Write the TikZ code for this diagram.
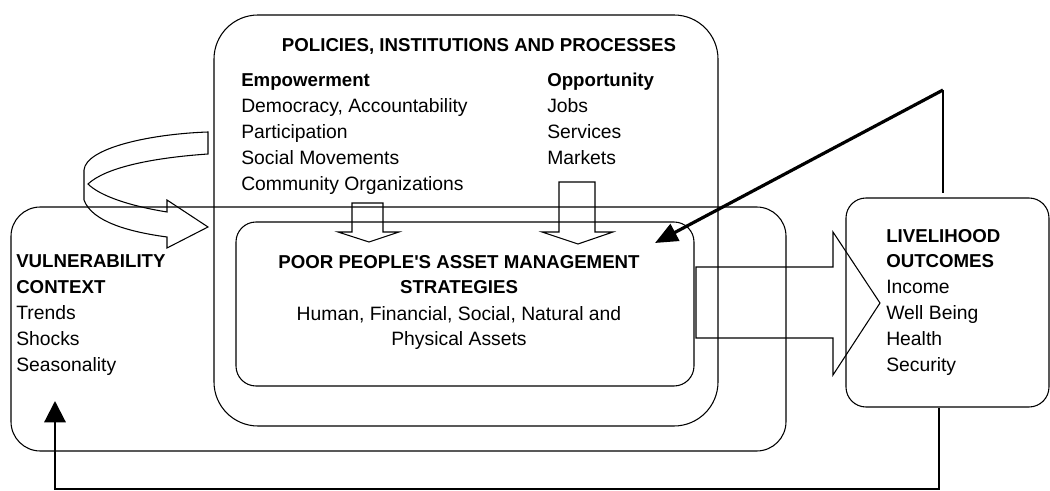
\documentclass[tikz,border=0pt]{standalone}
\usepackage{fontspec}
\setmainfont{Liberation Sans}
\usetikzlibrary{arrows.meta}
\begin{document}
\begin{tikzpicture}[x=0.75pt,y=-0.75pt,
  box/.style={draw,line width=0.8pt,inner sep=0pt},
  blockarrow/.style={draw,line width=0.8pt,line join=miter},
  lbl/.style={inner sep=0pt,font=\fontsize{14.5}{17}\selectfont},
  hd/.style={inner sep=0pt,font=\fontsize{14}{17}\selectfont\bfseries},
  feedback/.style={line width=1.6pt},
]
\useasboundingbox (0,0) rectangle (1050,491);

% framework boxes
\node[box,rounded corners=33pt,minimum width=378pt,minimum height=308.25pt] (pip) at (466,220.5) {};
\node[box,rounded corners=22pt,minimum width=581.25pt,minimum height=183pt] (vuln) at (398.5,329) {};
\node[box,rounded corners=15pt,minimum width=343.5pt,minimum height=123pt] (strat) at (465,304) {};
\node[box,rounded corners=15pt,minimum width=152.25pt,minimum height=156.75pt] (lh) at (947.5,302.5) {};

% policies, institutions and processes
\node[hd,anchor=base] (piptitle) at (479,52) {POLICIES, INSTITUTIONS AND PROCESSES};
\node[hd,anchor=base west] (emp0) at (241,87) {Empowerment};
\node[lbl,anchor=base west] (emp1) at (241,113) {Democracy, Accountability};
\node[lbl,anchor=base west] (emp2) at (241,139) {Participation};
\node[lbl,anchor=base west] (emp3) at (241,165) {Social Movements};
\node[lbl,anchor=base west] (emp4) at (241,191) {Community Organizations};
\node[hd,anchor=base west] (opp0) at (547,87) {Opportunity};
\node[lbl,anchor=base west] (opp1) at (547,113) {Jobs};
\node[lbl,anchor=base west] (opp2) at (547,139) {Services};
\node[lbl,anchor=base west] (opp3) at (547,165) {Markets};

% vulnerability context
\node[hd,anchor=base west] (vul0) at (16,268) {VULNERABILITY};
\node[hd,anchor=base west] (vul1) at (16,294) {CONTEXT};
\node[lbl,anchor=base west] (vul2) at (16,320) {Trends};
\node[lbl,anchor=base west] (vul3) at (16,346) {Shocks};
\node[lbl,anchor=base west] (vul4) at (16,372) {Seasonality};

% asset management strategies
\node[hd,anchor=base] (str0) at (459,269) {POOR PEOPLE\textquotesingle S ASSET MANAGEMENT};
\node[hd,anchor=base] (str1) at (459,294) {STRATEGIES};
\node[lbl,anchor=base] (str2) at (459,321) {Human, Financial, Social, Natural and};
\node[lbl,anchor=base] (str3) at (459,346) {Physical Assets};

% livelihood outcomes
\node[hd,anchor=base west] (lho0) at (886,243) {LIVELIHOOD};
\node[hd,anchor=base west] (lho1) at (886,268) {OUTCOMES};
\node[lbl,anchor=base west] (lho2) at (886,294) {Income};
\node[lbl,anchor=base west] (lho3) at (886,320) {Well Being};
\node[lbl,anchor=base west] (lho4) at (886,346) {Health};
\node[lbl,anchor=base west] (lho5) at (886,372) {Security};

% curled block arrow from the vulnerability context into the policies
\draw[blockarrow] (208,132) -- (208,154)
  .. controls (150,158) and (105,168) .. (88,184)
  .. controls (100,196) and (130,206) .. (167,212)
  -- (167,200) -- (208,227) -- (167,248) -- (167,237)
  .. controls (130,232) and (92,222) .. (84,200)
  -- (84,170)
  .. controls (86,148) and (150,134) .. (208,132) -- cycle;

% block arrows from the policies down to the strategies
\draw[blockarrow] (352,203) -- (383,203) -- (383,232) -- (399,232) -- (369,242) -- (338,232) -- (352,232) -- cycle;
\draw[blockarrow] (559,182) -- (595,182) -- (595,232) -- (613,232) -- (578,244) -- (542,232) -- (559,232) -- cycle;

% block arrow from the strategies to the outcomes
\draw[blockarrow] (696,267) -- (833,267) -- (833,232) -- (880,303) -- (833,375) -- (833,338) -- (696,338) -- cycle;

% feedback from the outcomes to the strategies
\coordinate (topturn) at (943,90);
\coordinate (stratin) at (655,243);
\draw[feedback,shorten >=3pt] (topturn) -- (topturn |- lh.north);
\draw[line width=2.4pt,-{Triangle[length=17pt,width=14pt]}] (topturn) -- (stratin);

% feedback from the outcomes to the vulnerability context
\coordinate (botright) at (939,489);
\coordinate (botleft) at (55,489);
\coordinate (vulnin) at (55,401);
\draw[feedback,-{Triangle[length=16pt,width=16pt]}] (botright |- lh.south) -- (botright) -- (botleft) -- (vulnin);
\end{tikzpicture}
\end{document}
